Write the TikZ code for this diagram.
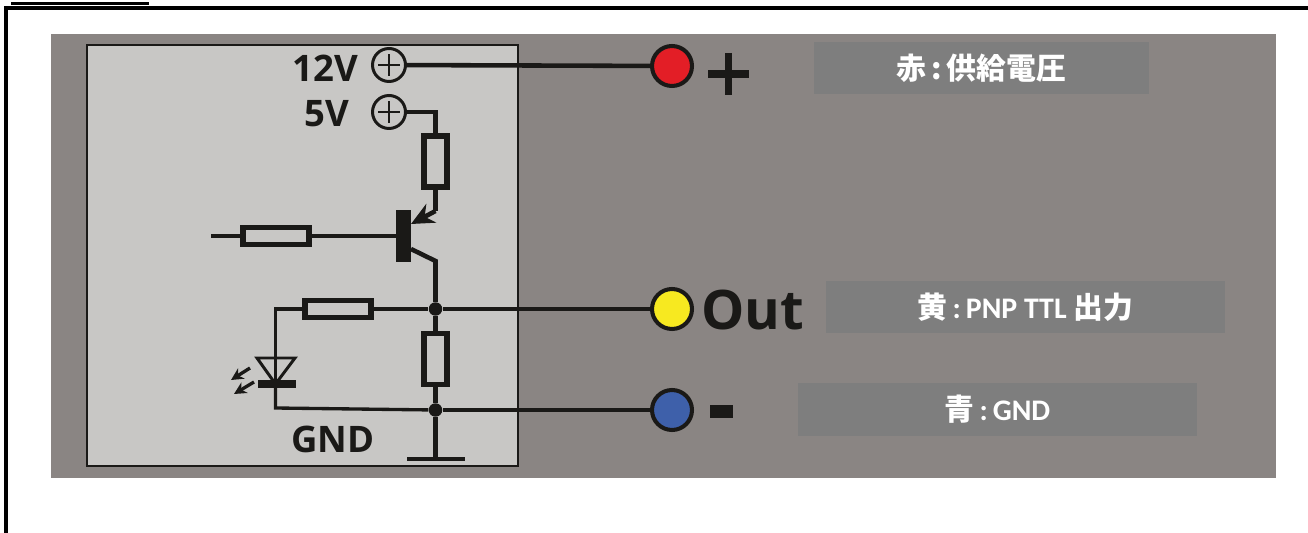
\documentclass[tikz,border=0pt]{standalone}
\usepackage{fontspec}
\setmainfont{Open Sans}
\newfontfamily\cjk{Noto Sans CJK JP}
\newfontfamily\tagfont{Carlito}
\usetikzlibrary{arrows.meta}
\definecolor{panelgray}{RGB}{138,133,131}
\definecolor{boxgray}{RGB}{200,199,197}
\definecolor{tagray}{RGB}{126,126,126}
\definecolor{inkblack}{RGB}{26,25,23}
\definecolor{redpin}{RGB}{227,30,38}
\definecolor{yellowpin}{RGB}{247,233,32}
\definecolor{bluepin}{RGB}{62,96,170}
\tikzset{
  wire/.style={draw=inkblack, line width=2.6pt},
  thinwire/.style={draw=inkblack, line width=1.9pt},
  res/.style={draw=inkblack, line width=2.9pt, fill=boxgray, inner sep=0pt, minimum width=1.32cm, minimum height=0.34cm},
  resv/.style={res, minimum width=0.46cm, minimum height=1.02cm},
  plusterm/.style={draw=inkblack, circle, line width=1.7pt, inner sep=0pt, minimum size=0.66cm},
  pinterm/.style={draw=inkblack, circle, line width=2.3pt, inner sep=0pt, minimum size=0.8cm},
  junction/.style={fill=inkblack, circle, inner sep=0pt, minimum size=0.27cm},
  marktext/.style={text=inkblack, font=\bfseries\fontsize{20.8}{20.8}\selectfont},
  tagbox/.style={fill=tagray, text=white, inner sep=0pt, font=\tagfont\bfseries\fontsize{17}{17}\selectfont},
}
\begin{document}
\begin{tikzpicture}[x=0.02cm, y=-0.02cm]
  \useasboundingbox (0,0) rectangle (1308,533);
  % frame and panels
  \draw[black, line width=2.4pt] (6,533) -- (6,8) -- (1308,8);
  \draw[black, line width=1.3pt] (11,3.5) -- (149,3.5);
  \fill[panelgray] (51,34) rectangle (1276,478);
  \fill[boxgray] (87,45) rectangle (518,466);
  \draw[inkblack, line width=1.6pt] (87,45) rectangle (518,466);
  % terminals
  \node[plusterm] (P12) at (389,65) {};
  \node[plusterm] (P5) at (389,112) {};
  \foreach \p in {P12,P5} {
    \draw[inkblack, line width=1.7pt] ([xshift=-0.22cm]\p.center) -- ([xshift=0.22cm]\p.center);
    \draw[inkblack, line width=1.7pt] ([yshift=-0.22cm]\p.center) -- ([yshift=0.22cm]\p.center);
  }
  \node[marktext, anchor=east] (L12) at (364,68) {12V};
  \node[marktext, anchor=east] (L5) at (355,114) {5V};
  \node[marktext] (LG) at (333,439) {GND};
  \node[pinterm, fill=redpin] (Red) at (672,66) {};
  \node[pinterm, fill=yellowpin] (Yel) at (672,309) {};
  \node[pinterm, fill=bluepin] (Blu) at (672,410) {};
  % named points
  \coordinate (C5) at (435.5,112);
  \node[resv] (R1) at (435.5,161.5) {};
  \coordinate (E1) at (435.5,211);
  \coordinate (E2) at (411,224);
  \node[res] (R2) at (276,236) {};
  \coordinate (In) at (211,236);
  \node[fill=inkblack, inner sep=0pt, minimum width=0.3cm, minimum height=1.04cm] (T1) at (403.5,236) {};
  \coordinate (K1) at (435.5,261);
  \coordinate (K2) at (411,249);
  \node[junction] (D1) at (435.5,309) {};
  \node[res] (R3) at (338,309) {};
  \coordinate (A1) at (275.5,309);
  \node[resv] (R4) at (435.5,359) {};
  \node[junction] (D2) at (435.5,410) {};
  \coordinate (A2) at (275.5,408);
  \coordinate (G1) at (435.5,459);
  \coordinate (G2L) at (407,459);
  \coordinate (G2R) at (465,459);
  \coordinate (LedT) at (275.5,358);
  \coordinate (LedL) at (257,358);
  \coordinate (LedR) at (295,358);
  \coordinate (LedK) at (275.5,384);
  \coordinate (LedB) at (258,384);
  \coordinate (LedC) at (296,384);
  % wires
  \draw[wire] (P12) -- (Red);
  \draw[wire] (P5) -- (C5) -- (R1);
  \draw[wire] (R1) -- (E1);
  \draw[wire, -{Stealth[length=13pt,width=12pt]}] (E1) -- (E2);
  \draw[wire] (In) -- (R2);
  \draw[wire] (R2) -- (T1);
  \draw[wire] (K2) -- (K1) -- (D1);
  \draw[wire] (R3) -- (D1);
  \draw[wire] (D1) -- (Yel);
  \draw[thinwire] (R3) -- (A1) -- (LedT);
  \draw[wire] (D1) -- (R4);
  \draw[wire] (R4) -- (D2);
  \draw[thinwire] (LedK) -- (A2) -- (D2);
  \draw[thinwire] (D2) -- (Blu);
  \draw[wire] (D2) -- (G1);
  \draw[inkblack, line width=2.7pt] (G2L) -- (G1) -- (G2R);
  % led
  \draw[inkblack, line width=1.7pt] (LedL) -- (LedR) -- (LedK) -- cycle;
  \draw[thinwire] (LedT) -- (LedK);
  \draw[inkblack, line width=4pt] (LedB) -- (LedC);
  \coordinate (Ray1a) at (250,368);
  \coordinate (Ray1b) at (231,380);
  \coordinate (Ray2a) at (254,382);
  \coordinate (Ray2b) at (234,394);
  \draw[thinwire, -{Stealth[length=7pt,width=7pt]}] (Ray1a) -- (Ray1b);
  \draw[thinwire, -{Stealth[length=7pt,width=7pt]}] (Ray2a) -- (Ray2b);
  % signs and labels
  \draw[inkblack, line width=4.5pt] (708,74) -- (749,74) (728.5,53) -- (728.5,95);
  \fill[inkblack] (710,405) rectangle (733,418);
  \node[text=inkblack, anchor=west, inner sep=0pt, font=\bfseries\fontsize{31}{31}\selectfont] (LOut) at (701,310) {Out};
  \node[tagbox, minimum width=6.7cm, minimum height=1.04cm] (TagR) at (981.5,68) {\cjk 赤\,:\,供給電圧};
  \node[tagbox, minimum width=7.98cm, minimum height=1.04cm] (TagY) at (1025.5,307) {{\cjk 黄}\,:\,PNP TTL {\cjk 出力}};
  \node[tagbox, minimum width=7.98cm, minimum height=1.06cm] (TagB) at (997.5,409.5) {{\cjk 青}\,:\,GND};
\end{tikzpicture}
\end{document}
